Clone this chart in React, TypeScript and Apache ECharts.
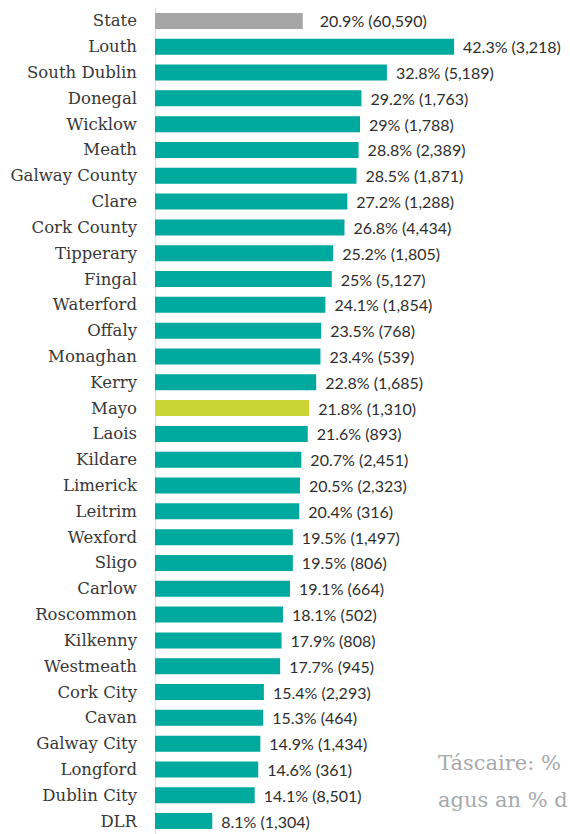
import React, { useEffect, useRef } from "react";
import * as echarts from "echarts";

const categories = [
  "State", "Louth", "South Dublin", "Donegal", "Wicklow", "Meath", "Galway County", "Clare",
  "Cork County", "Tipperary", "Fingal", "Waterford", "Offaly", "Monaghan", "Kerry", "Mayo",
  "Laois", "Kildare", "Limerick", "Leitrim", "Wexford", "Sligo", "Carlow", "Roscommon",
  "Kilkenny", "Westmeath", "Cork City", "Cavan", "Galway City", "Longford", "Dublin City", "DLR",
];
const percents = [
  20.9, 42.3, 32.8, 29.2, 29, 28.8, 28.5, 27.2, 26.8, 25.2, 25, 24.1, 23.5, 23.4, 22.8, 21.8,
  21.6, 20.7, 20.5, 20.4, 19.5, 19.5, 19.1, 18.1, 17.9, 17.7, 15.4, 15.3, 14.9, 14.6, 14.1, 8.1,
];
const counts = [
  "60,590", "3,218", "5,189", "1,763", "1,788", "2,389", "1,871", "1,288", "4,434", "1,805",
  "5,127", "1,854", "768", "539", "1,685", "1,310", "893", "2,451", "2,323", "316", "1,497",
  "806", "664", "502", "808", "945", "2,293", "464", "1,434", "361", "8,501", "1,304",
];
const noteLines = ["Táscaire: %", "agus an % d"];

const TEAL = "#00a99e";
const GREY = "#a6a6a6";
const MAYO = "#c9d534";

export default function App() {
  const ref = useRef<HTMLDivElement>(null);
  useEffect(() => {
    document.body.style.margin = "0";
    const chart = echarts.init(ref.current!, undefined, { renderer: "svg" });
    const data = percents.map((v, i) => ({
      value: v,
      itemStyle: { color: i === 0 ? GREY : categories[i] === "Mayo" ? MAYO : TEAL },
      label: { distance: i === 0 ? 17 : 9 },
    }));
    chart.setOption({
      animation: false,
      grid: { left: 155, right: 61.5, top: 8, height: 830, containLabel: false },
      xAxis: {
        type: "value",
        min: 0,
        max: 50,
        show: false,
      },
      yAxis: {
        type: "category",
        data: categories,
        inverse: true,
        axisLine: { show: true, lineStyle: { color: "#d9d9d9", width: 1 } },
        axisTick: { show: false },
        axisLabel: {
          margin: 18,
          fontFamily: "DejaVu Serif",
          fontSize: 16.5,
          color: "#383838",
        },
      },
      series: [
        {
          type: "bar",
          data,
          barWidth: 16,
          label: {
            show: true,
            position: "right",
            fontFamily: "Lato",
            fontSize: 16,
            color: "#2e2e2e",
            formatter: (p: any) => `${p.value}% (${counts[p.dataIndex]})`,
          },
        },
      ],
      graphic: noteLines.map((t, i) => ({
        type: "text",
        left: 438,
        top: 752 + i * 37,
        style: {
          text: t,
          font: "21px 'DejaVu Serif'",
          fill: "#a7a9ac",
        },
      })),
    });
    return () => chart.dispose();
  }, []);
  return <div ref={ref} style={{ width: 570, height: 834 }} />;
}
